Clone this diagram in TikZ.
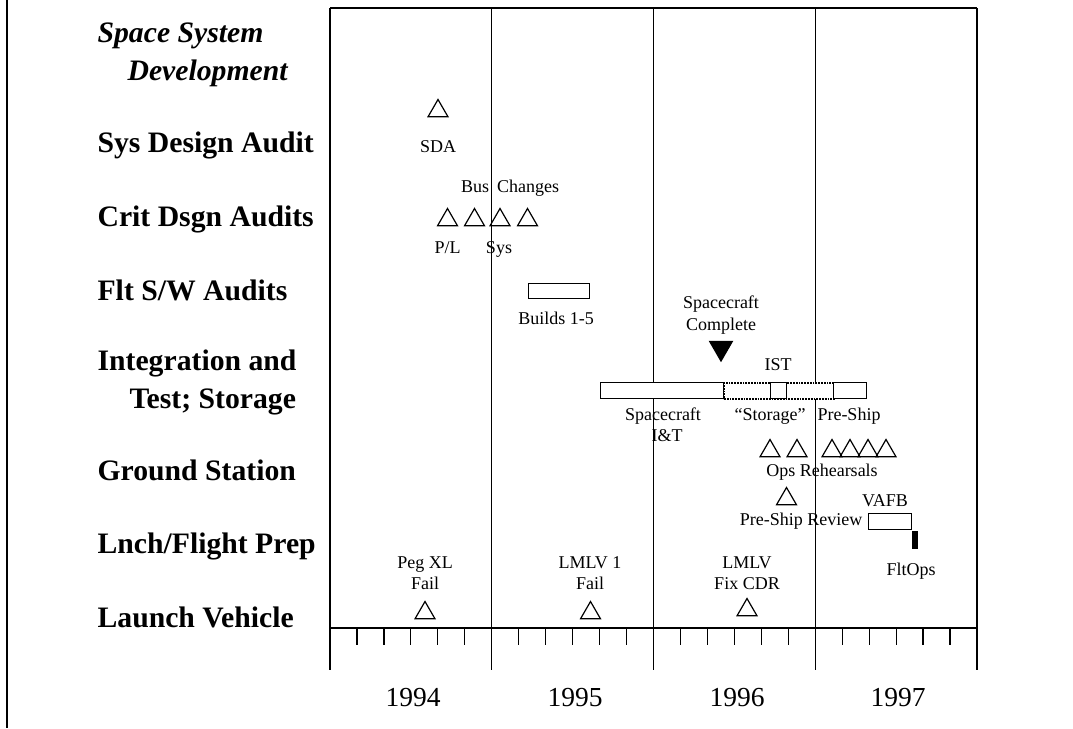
\documentclass[tikz,border=0pt]{standalone}
\usepackage{fontspec}
\setmainfont{Liberation Serif}
\usetikzlibrary{shapes.geometric}

\begin{document}
\begin{tikzpicture}[
  x=1pt,y=-1pt,
  line width=1.2pt,
  row/.style={anchor=base west,inner sep=0pt,font=\fontsize{29.7}{33}\selectfont\bfseries},
  hdr/.style={row,font=\fontsize{29.7}{33}\selectfont\bfseries\itshape},
  note/.style={anchor=base,inner sep=0pt,font=\fontsize{18}{20}\selectfont},
  yr/.style={anchor=base,inner sep=0pt,font=\fontsize{27.5}{30}\selectfont},
  ms/.style={draw,regular polygon,regular polygon sides=3,minimum size=23pt,inner sep=0pt},
  msdone/.style={ms,fill=black,shape border rotate=180,minimum size=26pt},
  bar/.style={draw,fill=white,rectangle,inner sep=0pt,anchor=north west},
  sbar/.style={bar,densely dotted,line width=1.8pt}
]
  \useasboundingbox (0,0) rectangle (1073,728);
  \draw[line width=2.2pt] (7,0) -- (7,728);
  \draw (330,8) -- (977,8);
  \foreach \k in {0,...,4}
    \draw (330+161.75*\k,8) -- (330+161.75*\k,670);
  \draw (330,628) -- (977,628);
  \foreach \k in {1,...,23}
    \draw (330+26.958*\k,628) -- (330+26.958*\k,645);
  \node[yr] (y94) at (413,706) {1994};
  \node[yr] (y95) at (575,706) {1995};
  \node[yr] (y96) at (737,706) {1996};
  \node[yr] (y97) at (898,706) {1997};

  \node[hdr] (h1) at (97,42) {Space System};
  \node[hdr] (h2) at (127,80) {Development};
  \node[row] (r1) at (97,152) {Sys Design Audit};
  \node[row] (r2) at (97,226) {Crit Dsgn Audits};
  \node[row] (r3) at (97,300) {Flt S/W Audits};
  \node[row] (r4a) at (97,370) {Integration and};
  \node[row] (r4b) at (129,408) {Test; Storage};
  \node[row] (r5) at (97,480) {Ground Station};
  \node[row] (r6) at (97,553) {Lnch/Flight Prep};
  \node[row] (r7) at (97,627) {Launch Vehicle};

  \node[ms] (sda) at (438,111) {};
  \node[note] (sdal) at (438,152) {SDA};

  \node[note] (bus) at (475,192) {Bus};
  \node[note] (chg) at (528,192) {Changes};
  \node[ms] (cd1) at (447.5,220) {};
  \node[ms] (cd2) at (474.5,220) {};
  \node[ms] (cd3) at (500,220) {};
  \node[ms] (cd4) at (527.5,220) {};
  \node[note] (pl) at (447.5,253) {P/L};
  \node[note] (sys) at (499,253) {Sys};

  \node[bar,minimum width=61pt,minimum height=15pt] (blds) at (528,283) {};
  \node[note] (bldsl) at (556,324) {Builds 1-5};

  \node[note] (scc1) at (721,308) {Spacecraft};
  \node[note] (scc2) at (721,330) {Complete};
  \node[msdone] (scc) at (721,348) {};
  \node[note] (istl) at (778,370) {IST};
  \node[bar,minimum width=123pt,minimum height=16pt] (iat) at (600,382) {};
  \node[sbar,minimum width=110pt,minimum height=16pt] (stor) at (723,382) {};
  \node[bar,minimum width=16pt,minimum height=16pt] (ist) at (770,382) {};
  \node[bar,minimum width=33pt,minimum height=16pt] (pship) at (833,382) {};
  \node[note] (iat1) at (663,420) {Spacecraft};
  \node[note] (iat2) at (667,441) {I\&T};
  \node[note] (storl) at (770,420) {``Storage''};
  \node[note] (pshipl) at (849,420) {Pre-Ship};

  \node[ms] (or1) at (770,451) {};
  \node[ms] (or2) at (797,451) {};
  \node[ms] (or3) at (832,451) {};
  \node[ms] (or4) at (850,451) {};
  \node[ms] (or5) at (868,451) {};
  \node[ms] (or6) at (886,451) {};
  \node[note] (ops) at (822,476) {Ops Rehearsals};

  \node[ms] (psr) at (786.5,499) {};
  \node[note] (psrl) at (801,525) {Pre-Ship Review};
  \node[note] (vafbl) at (885,506) {VAFB};
  \node[bar,minimum width=43pt,minimum height=16pt] (vafb) at (868,513) {};
  \node[bar,fill=black,minimum width=5pt,minimum height=17pt] (flt) at (912,531) {};
  \node[note] (fltl) at (911,575) {FltOps};

  \node[note] (peg1) at (425,568) {Peg XL};
  \node[note] (peg2) at (425,589) {Fail};
  \node[ms] (peg) at (425,613) {};
  \node[note] (lm1a) at (590,568) {LMLV 1};
  \node[note] (lm1b) at (590,589) {Fail};
  \node[ms] (lm1) at (590.5,613) {};
  \node[note] (fix1) at (747,568) {LMLV};
  \node[note] (fix2) at (747,589) {Fix CDR};
  \node[ms] (fix) at (747,610) {};
\end{tikzpicture}
\end{document}
